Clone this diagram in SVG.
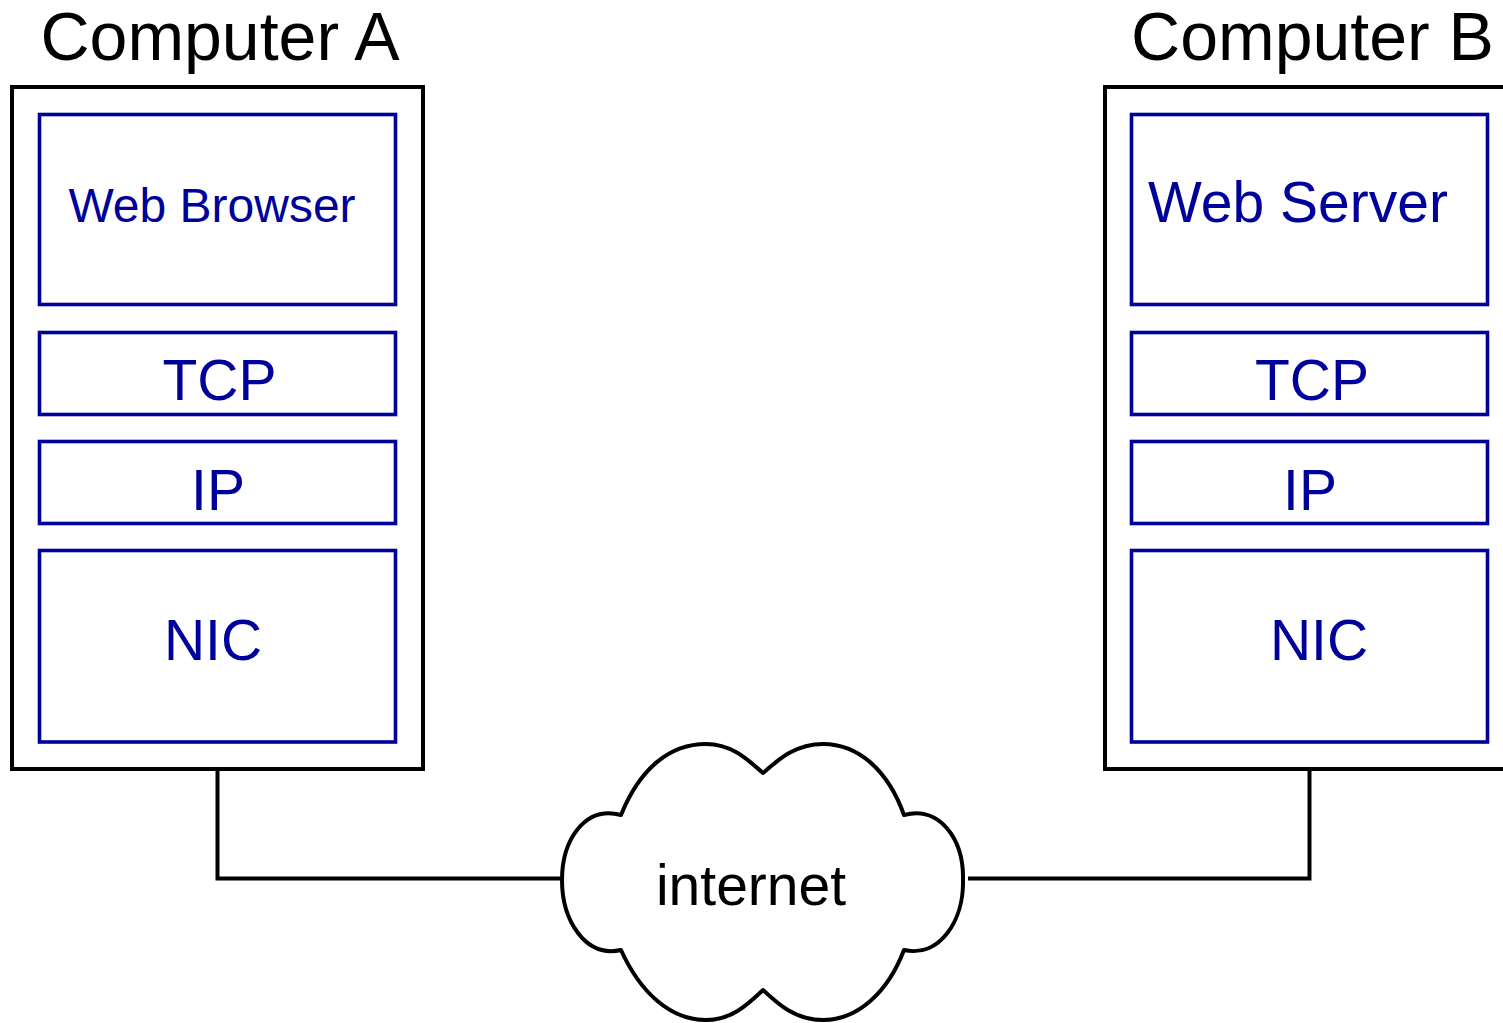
<svg xmlns="http://www.w3.org/2000/svg" width="1503" height="1023" viewBox="0 0 1503 1023">
<style>
.outer{fill:#fff;stroke:#000;stroke-width:4}
.layer{fill:none;stroke:#00009a;stroke-width:3.6}
.lt{fill:#00009a;font-family:"Liberation Sans",Arial,sans-serif;text-anchor:middle}
.title{fill:#000;font-family:"Liberation Sans",Arial,sans-serif;font-size:68px;text-anchor:middle}
.conn{fill:none;stroke:#000;stroke-width:4}
</style>
<rect width="1503" height="1023" fill="#fff"/>
<g id="computerA">
<text class="title" x="220" y="60">Computer A</text>
<rect class="outer" x="12" y="87" width="411" height="682"/>
</g>
<g id="webBrowser">
<rect class="layer" x="39.5" y="114.5" width="356" height="190"/>
<text class="lt" x="212" y="222" font-size="48">Web Browser</text>
</g>
<g id="tcpA">
<rect class="layer" x="39.5" y="332.5" width="356" height="82"/>
<text class="lt" x="219.5" y="400" font-size="57">TCP</text>
</g>
<g id="ipA">
<rect class="layer" x="39.5" y="441.5" width="356" height="82"/>
<text class="lt" x="218" y="510" font-size="57">IP</text>
</g>
<g id="nicA">
<rect class="layer" x="39.5" y="550.5" width="356" height="191.5"/>
<text class="lt" x="213" y="660" font-size="57">NIC</text>
</g>
<g id="computerB">
<text class="title" x="1312.5" y="60">Computer B</text>
<rect class="outer" x="1105" y="87" width="420" height="682"/>
</g>
<g id="webServer">
<rect class="layer" x="1131.5" y="114.5" width="356" height="190"/>
<text class="lt" x="1298" y="222" font-size="57">Web Server</text>
</g>
<g id="tcpB">
<rect class="layer" x="1131.5" y="332.5" width="356" height="82"/>
<text class="lt" x="1312" y="400" font-size="57">TCP</text>
</g>
<g id="ipB">
<rect class="layer" x="1131.5" y="441.5" width="356" height="82"/>
<text class="lt" x="1310" y="510" font-size="57">IP</text>
</g>
<g id="nicB">
<rect class="layer" x="1131.5" y="550.5" width="356" height="191.5"/>
<text class="lt" x="1319" y="660" font-size="57">NIC</text>
</g>
<g id="connectors">
<path class="conn" d="M217.5 769 V878.5 H561"/>
<path class="conn" d="M1309.5 769 V878.5 H968"/>
</g>
<g id="internet">
<path fill="#fff" stroke="#000" stroke-width="4" stroke-linejoin="round" d="M621 815 C640 768 670 744 706 744 C732 744 748 760 763 773 C778 760 795 744 823 744 C858 744 888 770 904 815 C940 805 964 840 963 880 C964 920 940 958 904 950 C888 992 858 1020 823 1020 C795 1020 778 1004 763 990 C748 1004 732 1020 706 1020 C670 1020 640 992 621 950 C585 958 562 920 562 880 C562 840 585 805 621 815 Z"/>
<text x="751" y="905" font-family="'Liberation Sans',Arial,sans-serif" font-size="57" text-anchor="middle" fill="#000">internet</text>
</g>
</svg>
